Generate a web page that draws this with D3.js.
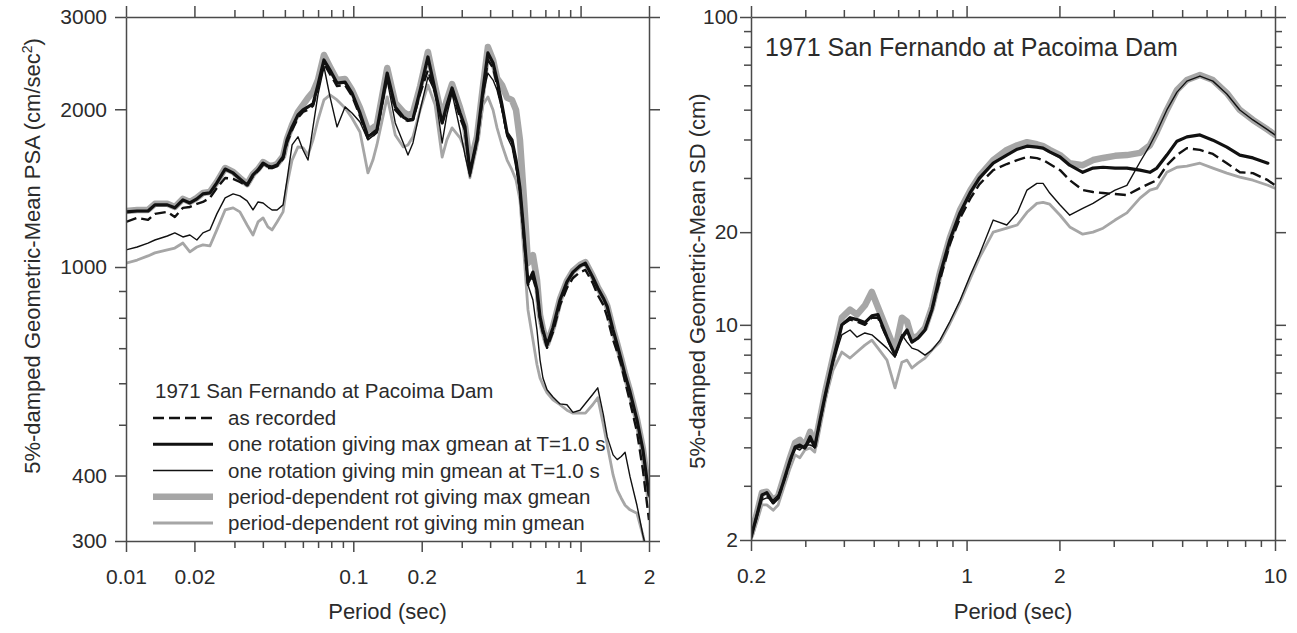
<!DOCTYPE html>
<html>
<head>
<meta charset="utf-8">
<script src="https://cdn.jsdelivr.net/npm/d3@7"></script>
<style>
  body { margin: 0; background: #fff; }
  text { font-family: "Liberation Sans", Arial, Helvetica, sans-serif; fill: #2b2b2b; }
</style>
</head>
<body>
<svg id="chart" width="1297" height="633"></svg>
<script>
// ---------- Left panel: 5%-damped geometric-mean PSA (cm/sec^2) ----------
const psaPeriods = [0.01, 0.0112, 0.0125, 0.0134, 0.0152, 0.0164, 0.0178, 0.0191, 0.0205, 0.0218,
  0.0234, 0.0251, 0.0273, 0.0296, 0.0317, 0.0341, 0.0362, 0.0381, 0.0401, 0.0421,
  0.0439, 0.0462, 0.0491, 0.0511, 0.0538, 0.0571, 0.0601, 0.0632, 0.0665, 0.0699,
  0.0743, 0.079, 0.0848, 0.092, 0.0987, 0.107, 0.116, 0.122, 0.127, 0.141,
  0.153, 0.166, 0.174, 0.183, 0.197, 0.213, 0.229, 0.246, 0.258, 0.272,
  0.295, 0.31, 0.326, 0.35, 0.372, 0.391, 0.412, 0.429, 0.451, 0.475,
  0.499, 0.52, 0.541, 0.564, 0.587, 0.617, 0.643, 0.663, 0.683, 0.712,
  0.756, 0.812, 0.871, 0.926, 0.994, 1.05, 1.13, 1.19, 1.26, 1.31,
  1.39, 1.45, 1.51, 1.57, 1.65, 1.77, 1.88, 2.0];

const psaRecorded = [1219, 1241, 1230, 1263, 1274, 1246, 1297, 1302, 1320, 1331,
  1355, 1415, 1479, 1473, 1453, 1428, 1492, 1525, 1565, 1545,
  1545, 1558, 1607, 1725, 1826, 1925, 1977, 1994, 2030, 2196,
  2441, 2335, 2215, 2225, 2120, 1942, 1756, 1779, 1810, 2314,
  1994, 1916, 1900, 1908, 2148, 2376, 2148, 1883, 2012, 2158,
  1925, 1826, 1532, 1725, 2130, 2484, 2398, 2225, 2012, 1786,
  1733, 1579, 1403, 1126, 924, 953, 896, 793, 748, 701,
  751, 846, 912, 953, 978, 987, 933, 884, 846, 803,
  726, 688, 651, 604, 553, 485, 410, 329];

const psaMaxT1 = [1274, 1279, 1279, 1314, 1314, 1297, 1343, 1325, 1349, 1379,
  1385, 1447, 1538, 1512, 1473, 1434, 1499, 1532, 1579, 1558,
  1552, 1565, 1621, 1748, 1851, 1951, 1994, 2021, 2048, 2225,
  2484, 2376, 2244, 2254, 2148, 1968, 1772, 1802, 1826, 2345,
  2021, 1933, 1908, 1916, 2177, 2517, 2177, 1883, 2039, 2196,
  1968, 1851, 1512, 1748, 2177, 2562, 2452, 2274, 2039, 1802,
  1748, 1600, 1415, 1151, 933, 978, 904, 803, 758, 710,
  766, 865, 937, 978, 1005, 1017, 957, 912, 872, 840,
  758, 710, 665, 622, 578, 511, 448, 367];

const psaMinT1 = [1078, 1092, 1111, 1126, 1146, 1162, 1141, 1151, 1126, 1162,
  1177, 1263, 1355, 1379, 1367, 1337, 1285, 1331, 1325, 1302,
  1285, 1285, 1314, 1466, 1710, 1772, 1672, 1600, 1851, 2130,
  2411, 2112, 1851, 2021, 1968, 1891, 1748, 1779, 1802, 2274,
  1883, 1725, 1636, 1725, 1994, 2304, 2158, 1725, 1951, 2148,
  1826, 1636, 1486, 1748, 2130, 2345, 2274, 2177, 1994, 1772,
  1695, 1545, 1391, 1126, 924, 865, 758, 665, 614, 583,
  565, 548, 546, 528, 533, 549, 571, 588, 522, 474,
  438, 429, 435, 443, 398, 351, 308, 276];

const psaMaxPD = [1279, 1285, 1285, 1320, 1320, 1302, 1349, 1331, 1355, 1385,
  1391, 1453, 1545, 1519, 1479, 1440, 1505, 1538, 1586, 1565,
  1558, 1572, 1628, 1756, 1867, 1977, 2039, 2103, 2158, 2274,
  2539, 2409, 2274, 2285, 2177, 2012, 1826, 1843, 1867, 2398,
  2057, 1977, 1951, 1968, 2215, 2572, 2215, 1925, 2084, 2234,
  2012, 1867, 1565, 1772, 2215, 2629, 2484, 2294, 2225, 2103,
  2084, 1994, 1748, 1343, 1017, 1054, 945, 810, 761, 713,
  769, 869, 941, 983, 1009, 1022, 962, 916, 876, 843,
  761, 713, 668, 625, 580, 513, 450, 368];

const psaMinPD = [1017, 1031, 1050, 1064, 1078, 1087, 1111, 1069, 1092, 1102,
  1097, 1177, 1285, 1297, 1274, 1203, 1151, 1219, 1241, 1193,
  1177, 1219, 1274, 1434, 1600, 1695, 1688, 1636, 1748, 1908,
  2084, 2130, 2084, 2012, 1925, 1810, 1512, 1600, 1710, 2112,
  1786, 1695, 1710, 1772, 1994, 2225, 2039, 1621, 1748, 1843,
  1764, 1672, 1480, 1700, 2039, 2112, 1994, 1843, 1710, 1600,
  1532, 1466, 1343, 1054, 828, 726, 651, 614, 596, 575,
  558, 546, 533, 526, 526, 526, 546, 563, 500, 458,
  401, 375, 362, 351, 344, 339, 308, 270];

const psaXMajor = [0.01, 0.02, 0.1, 0.2, 1, 2];
const psaXLabels = ["0.01", "0.02", "0.1", "0.2", "1", "2"];
const psaXMinor = [0.03, 0.04, 0.05, 0.06, 0.07, 0.08, 0.09, 0.3, 0.4, 0.5, 0.6, 0.7, 0.8, 0.9];
const psaYMajor = [300, 400, 1000, 2000, 3000];
const psaYLabels = ["300", "400", "1000", "2000", "3000"];
const psaYMinor = [500, 600, 700, 800, 900];

// ---------- Right panel: 5%-damped geometric-mean SD (cm) ----------
const sdPeriods = [0.2, 0.209, 0.217, 0.225, 0.236, 0.245, 0.254, 0.268, 0.278, 0.288,
  0.299, 0.311, 0.322, 0.335, 0.348, 0.369, 0.394, 0.419, 0.441, 0.468,
  0.493, 0.516, 0.552, 0.586, 0.617, 0.641, 0.665, 0.695, 0.733, 0.772,
  0.82, 0.883, 0.952, 1.03, 1.1, 1.22, 1.35, 1.46, 1.57, 1.69,
  1.77, 1.86, 2.01, 2.16, 2.38, 2.57, 2.77, 3.03, 3.31, 3.65,
  3.93, 4.14, 4.46, 4.81, 5.18, 5.71, 6.29, 6.98, 7.69, 8.48,
  9.48, 10];

const sdRecorded = [2.04, 2.41, 2.76, 2.80, 2.64, 2.74, 3.04, 3.61, 3.98, 4.01,
  3.98, 4.23, 4.01, 4.87, 5.87, 7.62, 10.0, 10.4, 10.25, 10.0,
  10.55, 10.55, 9.05, 7.97, 9.05, 9.48, 8.79, 9.05, 9.62, 11.2,
  14.0, 18.3, 22.2, 25.8, 28.6, 31.8, 33.3, 34.3, 35.1, 34.8,
  34.3, 33.3, 31.8, 29.5, 27.4, 27.0, 26.8, 26.6, 26.4, 27.8,
  28.8, 29.5, 33.0, 35.6, 37.5, 37.0, 35.9, 33.5, 31.3, 31.1,
  29.5, 28.4];

const sdMaxT1 = [2.04, 2.41, 2.80, 2.85, 2.64, 2.74, 3.06, 3.64, 4.01, 4.07,
  3.98, 4.33, 4.01, 4.91, 5.91, 7.68, 10.0, 10.55, 10.4, 10.17,
  10.7, 10.8, 9.12, 7.97, 9.12, 9.62, 8.79, 9.05, 9.62, 11.2,
  14.55, 18.9, 23.1, 27.0, 29.95, 33.5, 35.6, 37.2, 38.05, 37.8,
  37.5, 36.45, 35.1, 33.0, 31.3, 32.3, 32.5, 32.3, 32.3, 31.8,
  31.3, 32.3, 35.6, 39.5, 40.8, 41.4, 39.8, 37.8, 35.6, 34.85,
  33.5, null];

const sdMinT1 = [2.04, 2.35, 2.70, 2.74, 2.70, 2.80, 3.06, 3.64, 3.98, 3.92,
  4.07, 4.07, 4.01, 4.84, 5.83, 7.56, 9.28, 9.62, 9.13, 9.41,
  9.28, 8.92, 8.40, 7.85, 9.28, 8.79, 8.40, 8.28, 7.97, 8.28,
  8.92, 10.25, 12.0, 14.55, 16.9, 21.9, 21.1, 23.1, 27.4, 28.8,
  28.8, 26.8, 24.5, 22.7, 23.9, 24.8, 26.0, 27.4, 28.4, 33.8,
  38.3, 42.4, 49.9, 57.0, 61.9, 64.3, 61.9, 56.2, 49.9, 46.3,
  43.0, 41.4];

const sdMaxPD = [2.08, 2.44, 2.85, 2.87, 2.70, 2.78, 3.13, 3.72, 4.14, 4.23,
  4.04, 4.49, 4.07, 4.98, 6.05, 7.85, 10.55, 11.2, 10.8, 11.56,
  12.8, 11.4, 9.62, 8.28, 10.55, 10.25, 9.05, 9.19, 9.77, 11.4,
  14.8, 19.2, 23.6, 27.4, 30.4, 34.3, 37.0, 38.3, 39.2, 38.6,
  38.05, 37.0, 35.6, 33.5, 33.0, 34.3, 34.85, 35.4, 35.6, 36.2,
  38.3, 42.4, 49.9, 57.9, 62.4, 64.8, 62.4, 56.6, 49.9, 46.3,
  43.0, 41.4];

const sdMinPD = [2.0, 2.29, 2.60, 2.60, 2.50, 2.60, 2.91, 3.43, 3.78, 3.70,
  3.92, 3.98, 3.86, 4.77, 5.70, 7.13, 8.16, 7.80, 8.16, 8.59,
  8.92, 8.40, 7.68, 6.24, 7.56, 7.68, 7.24, 7.51, 7.80, 8.28,
  8.79, 10.1, 11.8, 14.2, 16.5, 20.0, 20.6, 21.1, 23.2, 24.8,
  25.0, 24.65, 22.7, 20.8, 19.7, 20.0, 20.6, 21.9, 23.1, 25.8,
  27.4, 27.8, 31.3, 32.5, 32.8, 33.5, 32.3, 31.1, 30.2, 29.5,
  28.4, 27.8];

const sdXMajor = [0.2, 1, 2, 10];
const sdXLabels = ["0.2", "1", "2", "10"];
const sdXMinor = [0.3, 0.4, 0.5, 0.6, 0.7, 0.8, 0.9, 3, 4, 5, 6, 7, 8, 9];
const sdYMajor = [2, 10, 20, 100];
const sdYLabels = ["2", "10", "20", "100"];
const sdYMinor = [3, 4, 5, 6, 7, 8, 9, 30, 40, 50, 60, 70, 80, 90];

const legendTitle = "1971 San Fernando at Pacoima Dam";
const seriesNames = [
  "as recorded",
  "one rotation giving max gmean at T=1.0 s",
  "one rotation giving min gmean at T=1.0 s",
  "period-dependent rot giving max gmean",
  "period-dependent rot giving min gmean"
];

// Line styles, in legend order
const styles = [
  { color: "#111", width: 2.4, dash: "11,5" },
  { color: "#111", width: 3.2 },
  { color: "#111", width: 1.4 },
  { color: "#a6a6a6", width: 6.5 },
  { color: "#a6a6a6", width: 2.8 }
];
// Paint order: wide gray first, heavy black last
const paintOrder = [3, 4, 2, 0, 1];

const svg = d3.select("#chart");
const AXIS = "#4a4a4a";
const MAJOR = 11, MINOR = 7;

function drawPanel(cfg) {
  const x = d3.scaleLog().domain(cfg.xDomain).range([cfg.left, cfg.right]);
  const y = d3.scaleLog().domain(cfg.yDomain).range([cfg.bottom, cfg.top]);
  const g = svg.append("g");

  const clipId = cfg.id + "-clip";
  svg.append("clipPath").attr("id", clipId)
    .append("rect")
    .attr("x", cfg.left).attr("y", cfg.top)
    .attr("width", cfg.right - cfg.left).attr("height", cfg.bottom - cfg.top);

  const plot = g.append("g").attr("clip-path", `url(#${clipId})`);
  paintOrder.forEach(k => {
    const vals = cfg.series[k];
    const st = styles[k];
    const line = d3.line()
      .defined((d, i) => vals[i] != null)
      .x(d => x(d))
      .y((d, i) => y(vals[i]));
    plot.append("path")
      .datum(cfg.periods)
      .attr("d", line)
      .attr("fill", "none")
      .attr("stroke", st.color)
      .attr("stroke-width", st.width)
      .attr("stroke-dasharray", st.dash || null)
      .attr("stroke-linejoin", "round")
      .attr("stroke-linecap", st.dash ? "butt" : "round");
  });

  function axis(gen, scale, values, size, transform, labels, pad, keepDomain) {
    const a = gen(scale).tickValues(values).tickSize(size).tickSizeOuter(0)
      .tickPadding(pad || 0)
      .tickFormat(labels ? ((d, i) => labels[i]) : "");
    const ag = g.append("g").attr("transform", transform).call(a);
    ag.selectAll("line").attr("stroke", AXIS).attr("stroke-width", 1.5);
    ag.select(".domain").attr("stroke", AXIS).attr("stroke-width", 1.5);
    if (!keepDomain) ag.select(".domain").remove();
    ag.selectAll("text").attr("font-size", 21).attr("fill", "#2b2b2b")
      .attr("font-family", "Liberation Sans, Arial, sans-serif");
    return ag;
  }
  const bt = `translate(0,${cfg.bottom})`, tp = `translate(0,${cfg.top})`;
  const lf = `translate(${cfg.left},0)`, rt = `translate(${cfg.right},0)`;
  axis(d3.axisBottom, x, cfg.xMajor, MAJOR, bt, cfg.xLabels, 17, true);
  axis(d3.axisBottom, x, cfg.xMinor, MINOR, bt);
  axis(d3.axisTop, x, cfg.xMajor, MAJOR, tp, null, 0, true);
  axis(d3.axisTop, x, cfg.xMinor, MINOR, tp);
  axis(d3.axisLeft, y, cfg.yMajor, MAJOR, lf, cfg.yLabels, cfg.yPad, true);
  axis(d3.axisLeft, y, cfg.yMinor, MINOR, lf);
  axis(d3.axisRight, y, cfg.yMajor, MAJOR, rt, null, 0, true);
  axis(d3.axisRight, y, cfg.yMinor, MINOR, rt);

  g.append("text")
    .attr("x", (cfg.left + cfg.right) / 2).attr("y", 619)
    .attr("text-anchor", "middle").attr("font-size", 22)
    .text("Period (sec)");

  const yt = g.append("text")
    .attr("transform", `translate(${cfg.yTitleX},${cfg.yTitleY}) rotate(-90)`)
    .attr("text-anchor", "middle").attr("font-size", 22);
  cfg.yTitle(yt);
  return { x, y, g };
}

// Left panel
const left = drawPanel({
  id: "psa", left: 126, right: 649, top: 17, bottom: 541,
  xDomain: [0.01, 2], yDomain: [300, 3000],
  periods: psaPeriods,
  series: [psaRecorded, psaMaxT1, psaMinT1, psaMaxPD, psaMinPD],
  xMajor: psaXMajor, xLabels: psaXLabels, xMinor: psaXMinor,
  yMajor: psaYMajor, yLabels: psaYLabels, yMinor: psaYMinor, yPad: 8,
  yTitleX: 40, yTitleY: 256,
  yTitle: t => {
    t.append("tspan").text("5%-damped Geometric-Mean PSA (cm/sec");
    t.append("tspan").attr("dy", -8).attr("font-size", 14).text("2");
    t.append("tspan").attr("dy", 8).text(")");
  }
});

// Right panel
const right = drawPanel({
  id: "sd", left: 751, right: 1275, top: 17, bottom: 540,
  xDomain: [0.2, 10], yDomain: [2, 100],
  periods: sdPeriods,
  series: [sdRecorded, sdMaxT1, sdMinT1, sdMaxPD, sdMinPD],
  xMajor: sdXMajor, xLabels: sdXLabels, xMinor: sdXMinor,
  yMajor: sdYMajor, yLabels: sdYLabels, yMinor: sdYMinor, yPad: 2,
  yTitleX: 705, yTitleY: 281,
  yTitle: t => t.text("5%-damped Geometric-Mean SD (cm)")
});

right.g.append("text")
  .attr("x", 765).attr("y", 56).attr("font-size", 25)
  .text(legendTitle);

// Legend (left panel)
const legend = svg.append("g");
legend.append("text").attr("x", 155).attr("y", 398).attr("font-size", 20.5).text(legendTitle);
const rowY = d3.scaleLinear().domain([0, 4]).range([418, 523]);
seriesNames.forEach((name, k) => {
  const st = styles[k];
  const yy = rowY(k);
  legend.append("line")
    .attr("x1", 153).attr("x2", 213).attr("y1", yy).attr("y2", yy)
    .attr("stroke", st.color).attr("stroke-width", st.width)
    .attr("stroke-dasharray", st.dash || null);
  legend.append("text").attr("x", 228).attr("y", yy + 7).attr("font-size", 20.5).text(name);
});
</script>
</body>
</html>
